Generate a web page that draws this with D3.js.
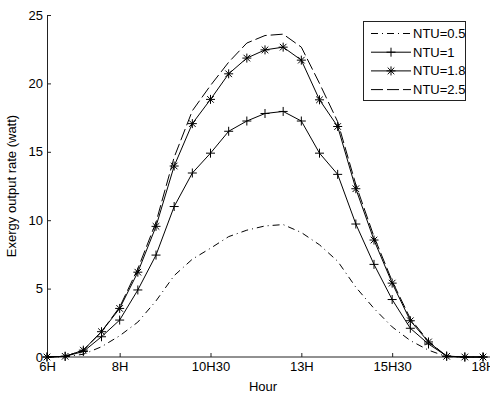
<!DOCTYPE html>
<html>
<head>
<meta charset="utf-8">
<script src="https://cdn.jsdelivr.net/npm/d3@7"></script>
<style>
  body { margin: 0; background: #fff; }
  text { font-family: "Liberation Sans", Arial, sans-serif; }
</style>
</head>
<body>
<svg id="chart" width="490" height="394"></svg>
<script>
// half-hour readings from 6H to 18H
var hours = [6, 6.5, 7, 7.5, 8, 8.5, 9, 9.5, 10, 10.5, 11, 11.5, 12,
             12.5, 13, 13.5, 14, 14.5, 15, 15.5, 16, 16.5, 17, 17.5, 18];

var ntu05 = [0, 0.02, 0.2, 0.75, 1.55, 2.55, 4.1, 5.95, 7.15, 7.95, 8.8, 9.27, 9.58,
             9.68, 9.1, 8.2, 7.0, 5.1, 3.55, 2.2, 1.2, 0.5, 0.02, 0, 0];
var ntu1 = [0, 0.05, 0.4, 1.48, 2.7, 4.9, 7.45, 11.0, 13.45, 14.9, 16.5, 17.25, 17.8,
            17.95, 17.25, 14.9, 13.35, 9.72, 6.77, 4.2, 2.1, 0.95, 0.07, 0, 0];
var ntu18 = [0, 0.05, 0.5, 1.85, 3.55, 6.2, 9.55, 13.96, 17.06, 18.83, 20.7, 21.85, 22.45,
             22.65, 21.7, 18.8, 16.85, 12.3, 8.55, 5.4, 2.65, 1.1, 0.05, 0, 0];
var ntu25 = [0, 0.05, 0.5, 1.85, 3.65, 6.45, 9.85, 14.6, 18.0, 19.85, 21.55, 22.95, 23.5,
             23.6, 22.65, 20.0, 17.2, 12.6, 8.8, 5.55, 2.8, 1.15, 0.05, 0, 0];

var seriesNames = ["NTU=0.5", "NTU=1", "NTU=1.8", "NTU=2.5"];

var xTicks = [6, 8, 10.5, 13, 15.5, 18];
var xTickLabels = ["6H", "8H", "10H30", "13H", "15H30", "18H"];
var yTicks = [0, 5, 10, 15, 20, 25];

var svg = d3.select("#chart");

var x = d3.scaleLinear().domain([6, 18]).range([47, 483]);
var y = d3.scaleLinear().domain([0, 25]).range([357, 15]);

// axes (ticks point inward, matlab style)
var xAxis = svg.append("g")
    .attr("transform", "translate(0," + y(0) + ")")
    .call(d3.axisBottom(x)
        .tickValues(xTicks)
        .tickFormat(function(d, i) { return xTickLabels[i]; })
        .tickSizeInner(-4)
        .tickSizeOuter(0)
        .tickPadding(5));

var yAxis = svg.append("g")
    .attr("transform", "translate(" + x(6) + ",0)")
    .call(d3.axisLeft(y)
        .tickValues(yTicks)
        .tickSizeInner(-4)
        .tickSizeOuter(0)
        .tickPadding(4));

// bottom axis line runs to the edge of the figure
xAxis.select(".domain").attr("d", "M0,0H" + (490 - 0));
xAxis.select(".domain").attr("d", "M" + x(6) + ",0H490");

svg.selectAll(".tick text")
    .attr("font-size", 13)
    .attr("font-family", "Liberation Sans, Arial, sans-serif")
    .attr("fill", "#000");
svg.selectAll(".domain, .tick line").attr("stroke", "#222");

svg.append("text")
    .attr("x", 263)
    .attr("y", 391)
    .attr("text-anchor", "middle")
    .attr("font-size", 13)
    .text("Hour");

svg.append("text")
    .attr("transform", "translate(16," + 186 + ") rotate(-90)")
    .attr("text-anchor", "middle")
    .attr("font-size", 13)
    .text("Exergy output rate (watt)");

var line = d3.line()
    .x(function(d, i) { return x(hours[i]); })
    .y(function(d) { return y(d); });

var styles = [
    { data: ntu05, dash: "7,4,1,4", marker: null },
    { data: ntu1, dash: null, marker: "plus" },
    { data: ntu18, dash: null, marker: "star" },
    { data: ntu25, dash: "12,4", marker: null }
];

function drawMarker(g, type, cx, cy) {
    var r = 4.5, s = 3.3;
    if (!type) return;
    g.append("path")
        .attr("d", "M" + (cx - r) + "," + cy + "H" + (cx + r) +
                   "M" + cx + "," + (cy - r) + "V" + (cy + r))
        .attr("stroke", "#000").attr("fill", "none");
    if (type === "star") {
        g.append("path")
            .attr("d", "M" + (cx - s) + "," + (cy - s) + "L" + (cx + s) + "," + (cy + s) +
                       "M" + (cx - s) + "," + (cy + s) + "L" + (cx + s) + "," + (cy - s))
            .attr("stroke", "#000").attr("fill", "none");
    }
}

styles.forEach(function(st) {
    svg.append("path")
        .datum(st.data)
        .attr("fill", "none")
        .attr("stroke", "#000")
        .attr("stroke-width", 1)
        .attr("stroke-dasharray", st.dash)
        .attr("d", line);
    var mg = svg.append("g");
    st.data.forEach(function(v, i) {
        drawMarker(mg, st.marker, x(hours[i]), y(v));
    });
});

// legend
var legend = svg.append("g");
legend.append("rect")
    .attr("x", 363.5).attr("y", 21.5)
    .attr("width", 102).attr("height", 79)
    .attr("fill", "#fff").attr("stroke", "#222");

seriesNames.forEach(function(name, i) {
    var ly = 33.5 + i * 18.7;
    legend.append("path")
        .attr("d", "M371," + ly + "H411")
        .attr("stroke", "#000")
        .attr("stroke-dasharray", styles[i].dash);
    drawMarker(legend, styles[i].marker, 391, ly);
    legend.append("text")
        .attr("x", 413)
        .attr("y", ly + 4.5)
        .attr("font-size", 13)
        .text(name);
});
</script>
</body>
</html>
